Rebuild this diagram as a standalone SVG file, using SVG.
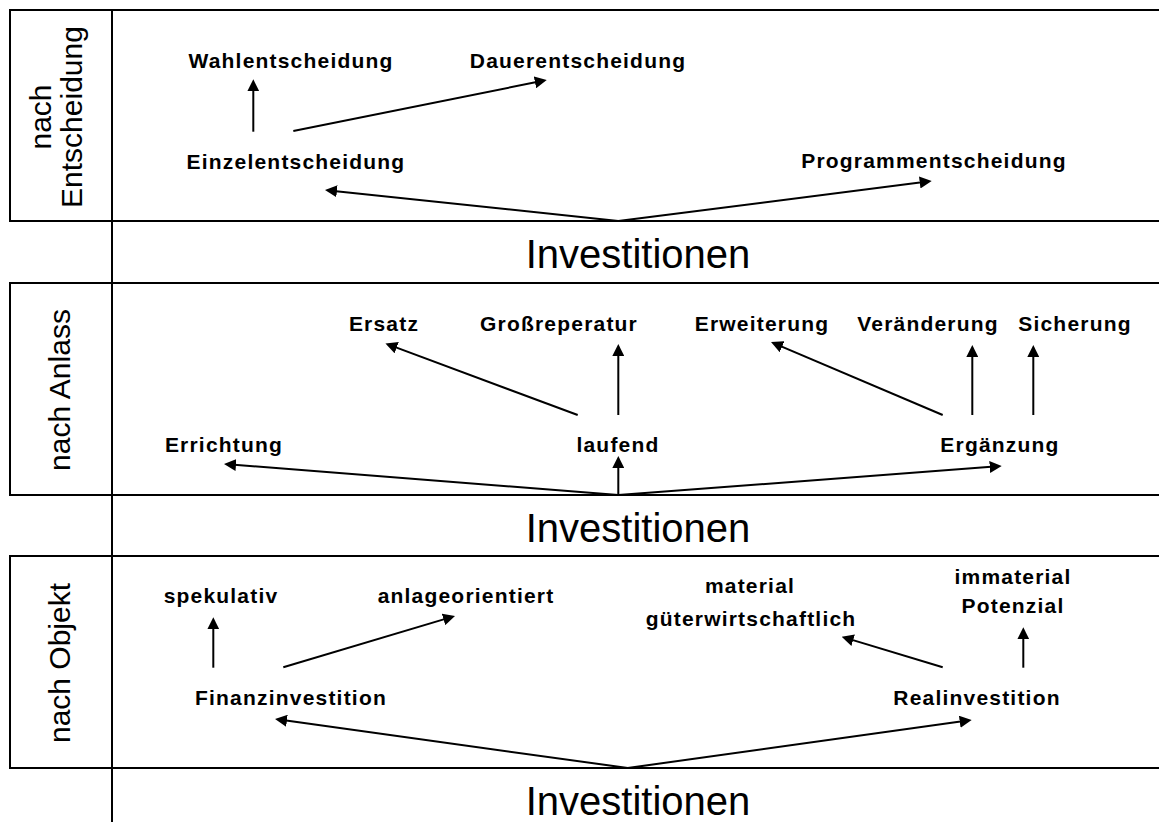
<svg xmlns="http://www.w3.org/2000/svg" width="1159" height="822" viewBox="0 0 1159 822">
  <defs>
    <style>
      .frame { fill: none; stroke: #000; stroke-width: 2; }
      .lbl { font-family: "Liberation Sans", Arial, sans-serif; font-weight: bold; font-size: 21px; letter-spacing: 1.2px; text-anchor: middle; fill: #000; }
      .side { font-family: "Liberation Sans", Arial, sans-serif; font-size: 30px; text-anchor: middle; fill: #000; }
      .root { font-family: "Liberation Sans", Arial, sans-serif; font-size: 40px; text-anchor: middle; fill: #000; }
      .conn line { stroke: #000; stroke-width: 2; fill: none; }
      .arr { marker-end: url(#head); }
    </style>
    <marker id="head" viewBox="0 0 12 12" markerUnits="userSpaceOnUse" markerWidth="12" markerHeight="12" refX="8" refY="6" orient="auto">
      <path d="M0,0 L12,6 L0,12 z" fill="#000"/>
    </marker>
  </defs>
  <rect width="1159" height="822" fill="#fff"/>

  <!-- section frames -->
  <g id="frames">
    <rect class="frame" x="10" y="10" width="1160" height="211"/>
    <rect class="frame" x="10" y="283" width="1160" height="212"/>
    <rect class="frame" x="10" y="556" width="1160" height="212"/>
    <line class="frame" x1="112" y1="10" x2="112" y2="822"/>
  </g>

  <!-- side captions -->
  <g id="cap-entscheidung">
    <text class="side" x="51" y="117" transform="rotate(-90 51 117)">nach</text>
    <text class="side" x="82" y="117" transform="rotate(-90 82 117)">Entscheidung</text>
  </g>
  <g id="cap-anlass">
    <text class="side" x="70" y="390" transform="rotate(-90 70 390)">nach Anlass</text>
  </g>
  <g id="cap-objekt">
    <text class="side" x="70" y="663" transform="rotate(-90 70 663)">nach Objekt</text>
  </g>

  <!-- root labels -->
  <g id="root-1"><text class="root" x="638" y="268">Investitionen</text></g>
  <g id="root-2"><text class="root" x="638" y="542">Investitionen</text></g>
  <g id="root-3"><text class="root" x="638" y="815">Investitionen</text></g>

  <!-- section 1 nodes -->
  <g id="n-wahl"><text class="lbl" x="291" y="68">Wahlentscheidung</text></g>
  <g id="n-dauer"><text class="lbl" x="578" y="68">Dauerentscheidung</text></g>
  <g id="n-einzel"><text class="lbl" x="296" y="169">Einzelentscheidung</text></g>
  <g id="n-programm"><text class="lbl" x="934" y="168">Programmentscheidung</text></g>

  <!-- section 2 nodes -->
  <g id="n-ersatz"><text class="lbl" x="384" y="331">Ersatz</text></g>
  <g id="n-gross"><text class="lbl" x="559" y="331">Großreperatur</text></g>
  <g id="n-erweiterung"><text class="lbl" x="762" y="331">Erweiterung</text></g>
  <g id="n-veraenderung"><text class="lbl" x="928" y="331">Veränderung</text></g>
  <g id="n-sicherung"><text class="lbl" x="1075" y="331">Sicherung</text></g>
  <g id="n-errichtung"><text class="lbl" x="224" y="452">Errichtung</text></g>
  <g id="n-laufend"><text class="lbl" x="618" y="452">laufend</text></g>
  <g id="n-ergaenzung"><text class="lbl" x="1000" y="452">Ergänzung</text></g>

  <!-- section 3 nodes -->
  <g id="n-spekulativ"><text class="lbl" x="221" y="603">spekulativ</text></g>
  <g id="n-anlage"><text class="lbl" x="466" y="603">anlageorientiert</text></g>
  <g id="n-material">
    <text class="lbl" x="750" y="593">material</text>
    <text class="lbl" x="751" y="626">güterwirtschaftlich</text>
  </g>
  <g id="n-immaterial">
    <text class="lbl" x="1013" y="584">immaterial</text>
    <text class="lbl" x="1013" y="613">Potenzial</text>
  </g>
  <g id="n-finanz"><text class="lbl" x="291" y="705">Finanzinvestition</text></g>
  <g id="n-real"><text class="lbl" x="977" y="705">Realinvestition</text></g>

  <!-- connectors -->
  <g id="connectors" class="conn">
    <line class="arr" x1="253.3" y1="131.7" x2="253.3" y2="83.3"/>
    <line class="arr" x1="293.3" y1="131" x2="542.8" y2="80.8"/>
    <line class="arr" x1="618.3" y1="221" x2="329" y2="190.4"/>
    <line class="arr" x1="618.3" y1="221" x2="927.7" y2="181.5"/>

    <line class="arr" x1="618.3" y1="495" x2="228" y2="464.3"/>
    <line class="arr" x1="618.3" y1="495" x2="618.3" y2="460"/>
    <line class="arr" x1="618.3" y1="495" x2="997.7" y2="466.3"/>
    <line class="arr" x1="577.7" y1="415" x2="389.2" y2="344.9"/>
    <line class="arr" x1="618.3" y1="415" x2="618.3" y2="348"/>
    <line class="arr" x1="942.7" y1="415" x2="774.7" y2="343.6"/>
    <line class="arr" x1="972.3" y1="415" x2="972.3" y2="349"/>
    <line class="arr" x1="1033.3" y1="415" x2="1033.3" y2="349"/>

    <line class="arr" x1="627.7" y1="768" x2="279" y2="719.6"/>
    <line class="arr" x1="627.7" y1="768" x2="967.7" y2="720.6"/>
    <line class="arr" x1="213.3" y1="667.7" x2="213.3" y2="621.3"/>
    <line class="arr" x1="283.3" y1="667.3" x2="451.2" y2="617.1"/>
    <line class="arr" x1="942.7" y1="667.3" x2="845.5" y2="637.9"/>
    <line class="arr" x1="1023.3" y1="667.7" x2="1023.3" y2="631.3"/>
  </g>
</svg>
